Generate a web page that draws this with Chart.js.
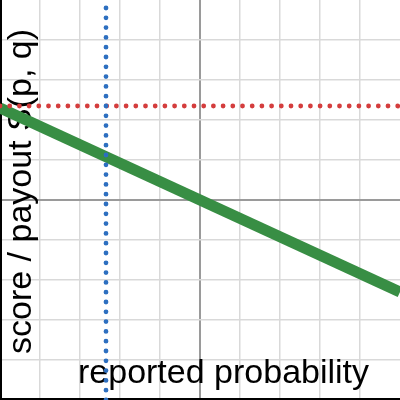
<!DOCTYPE html>
<html>
<head>
<meta charset="utf-8">
<script src="https://cdn.jsdelivr.net/npm/chart.js@4"></script>
<style>
  html, body { margin: 0; padding: 0; background: #fff; }
  #wrap { width: 400px; height: 400px; }
</style>
</head>
<body>
<div id="wrap"><canvas id="chart"></canvas></div>
<script>
// axis range and labels
const xRange = [-5, 5];
const yRange = [-5, 5];
const xLabel = 'reported probability';
const yLabel = 'score / payout S(p, q)';

// green score line (straight, two end points)
const scoreX = [-5, 5];
const scoreY = [2.3, -2.3];

// dotted guides
const trueProbX = -2.35;   // vertical blue
const payoutY = 2.35;      // horizontal red

const gridColor = (ctx) => {
  const v = ctx.tick ? ctx.tick.value : null;
  if (v === 0) return '#9a9a9a';
  if (v === 5) return 'rgba(0,0,0,0)';
  return '#d9d9d9';
};
const gridWidth = (ctx) => (ctx.tick && ctx.tick.value === 0 ? 2 : 1.5);

// draw the axis titles inside the plot, under the lines
const labelPlugin = {
  id: 'labels',
  beforeDatasetsDraw(chart) {
    const c = chart.ctx;
    c.save();
    c.fillStyle = '#000';
    c.font = '34px "Liberation Sans", Arial, sans-serif';
    c.textBaseline = 'alphabetic';
    c.textAlign = 'left';
    c.fillText(xLabel, 78, 383);
    c.translate(31, 354);
    c.rotate(-Math.PI / 2);
    c.fillText(yLabel, 0, 0);
    c.restore();
  }
};

const ctx = document.getElementById('chart').getContext('2d');
new Chart(ctx, {
  type: 'scatter',
  data: {
    datasets: [
      {
        label: 'blue',
        data: [{x: trueProbX, y: yRange[0]}, {x: trueProbX, y: yRange[1]}],
        showLine: true,
        borderColor: '#2d6fc0',
        borderWidth: 4.8,
        borderDash: [0, 9.8],
        borderCapStyle: 'round',
        pointRadius: 0,
        order: 1
      },
      {
        label: 'red',
        data: [{x: xRange[0], y: payoutY}, {x: xRange[1], y: payoutY}],
        showLine: true,
        borderColor: '#d43d3d',
        borderWidth: 4.8,
        borderDash: [0, 9.7],
        borderCapStyle: 'round',
        pointRadius: 0,
        order: 2
      },
      {
        label: 'score',
        data: scoreX.map((x, i) => ({x: x, y: scoreY[i]})),
        showLine: true,
        borderColor: '#388e44',
        borderWidth: 11,
        pointRadius: 0,
        order: 3
      }
    ]
  },
  options: {
    responsive: true,
    maintainAspectRatio: false,
    animation: false,
    layout: { padding: 0 },
    plugins: { legend: { display: false }, tooltip: { enabled: false } },
    scales: {
      x: {
        type: 'linear',
        min: xRange[0],
        max: xRange[1],
        ticks: { display: false, stepSize: 1 },
        grid: { color: gridColor, lineWidth: gridWidth, drawTicks: false },
        border: { display: true, color: '#000', width: 4 }
      },
      y: {
        type: 'linear',
        min: yRange[0],
        max: yRange[1],
        ticks: { display: false, stepSize: 1 },
        grid: { color: gridColor, lineWidth: gridWidth, drawTicks: false },
        border: { display: true, color: '#000', width: 4 }
      }
    }
  },
  plugins: [labelPlugin]
});
</script>
</body>
</html>
